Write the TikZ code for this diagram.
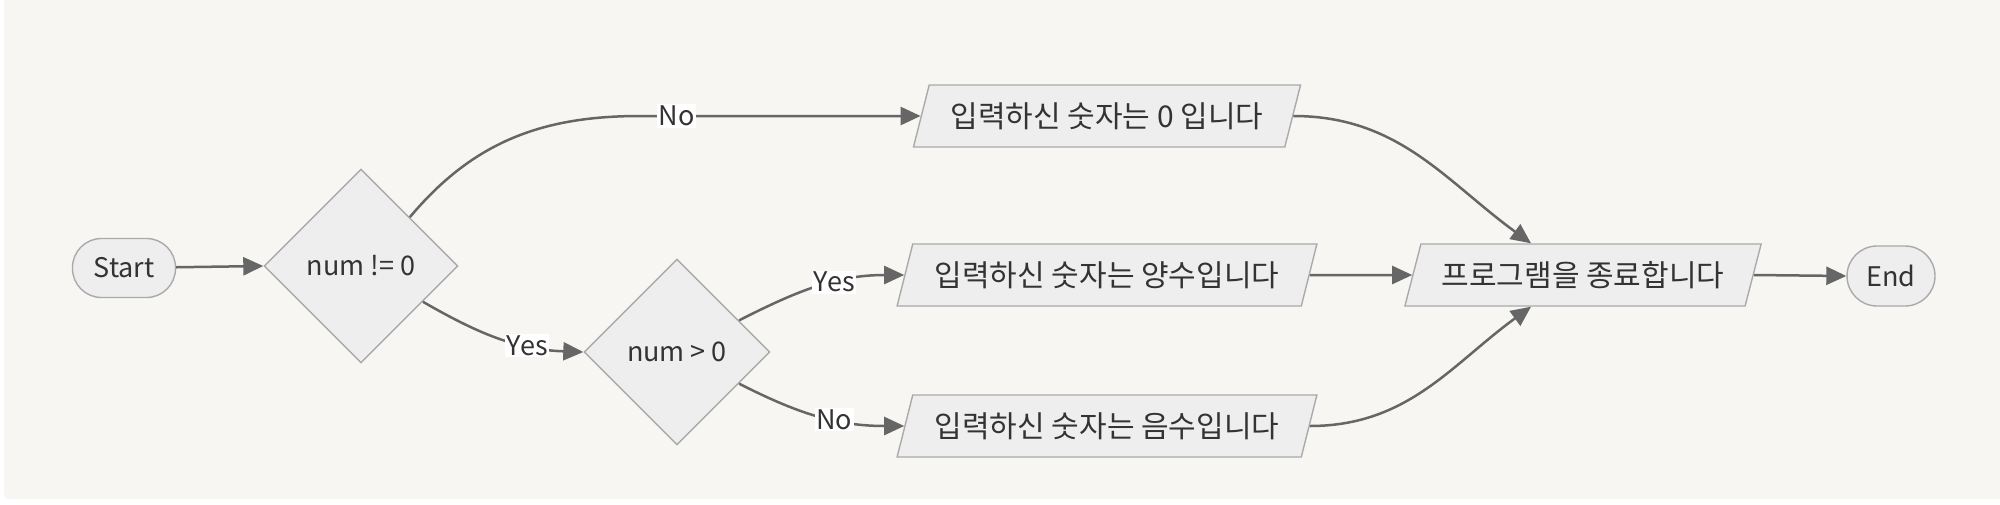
\documentclass[tikz,border=0pt]{standalone}
\usepackage{fontspec}
\setmainfont{Noto Sans CJK KR}
\usetikzlibrary{shapes.geometric,arrows.meta,calc}
\definecolor{bgc}{HTML}{F7F6F3}
\definecolor{nodefill}{HTML}{EEEEEE}
\definecolor{nodeline}{HTML}{AAAAAA}
\definecolor{edgec}{HTML}{666666}
\definecolor{txt}{HTML}{333333}
\begin{document}
\begin{tikzpicture}[x=0.5pt,y=-0.5pt,
  base/.style={draw=nodeline, fill=nodefill, line width=0.7pt, text=txt, font=\fontsize{13.5}{15}\selectfont, inner sep=0pt},
  term/.style={base, rectangle, rounded corners=14.5pt},
  dec/.style={base, diamond, aspect=1},
  io/.style={base, trapezium, trapezium left angle=63, trapezium right angle=117, trapezium stretches=true, minimum height=31pt, font=\fontsize{15}{17}\selectfont},
  flow/.style={draw=edgec, line width=1.25pt, -{Triangle[length=10pt,width=9pt]}},
  lbl/.style={fill=white, inner sep=0.8pt, text=txt, font=\fontsize{13.5}{15}\selectfont}
]
\useasboundingbox (0,0) rectangle (2000,504);
\fill[white] (0,0) rectangle (2000,504);
\fill[bgc, rounded corners=3pt] (4,-5) rectangle (2005,499);

\node[term, minimum width=51.5pt, minimum height=29.5pt] (start) at (124,268) {Start};
\node[dec, minimum width=97pt, minimum height=97pt] (d1) at (361,266) {num != 0};
\node[dec, minimum width=93pt, minimum height=93pt] (d2) at (677,352) {num > 0};
\node[io, minimum width=194pt] (out0) at (1107,116) {입력하신 숫자는 0 입니다};
\node[io, minimum width=210.5pt] (pos) at (1107,275) {입력하신 숫자는 양수입니다};
\node[io, minimum width=210.5pt] (neg) at (1107,426) {입력하신 숫자는 음수입니다};
\node[io, minimum width=178.5pt] (endp) at (1583,275) {프로그램을 종료합니다};
\node[term, minimum width=44pt, minimum height=30pt, rounded corners=15pt] (endn) at (1891,276) {End};

\coordinate (nomid) at (640,116);

\draw[flow] (start) -- (d1.west);
\draw[flow] (d1.north east) to[out=50,in=180] (nomid) -- node[lbl,pos=0.13]{No} (out0.west);
\draw[flow] (d1.-30) to[out=-30,in=178] node[lbl,pos=0.68]{Yes} (d2.west);
\draw[flow] (d2.27) to[out=27,in=180] node[lbl,pos=0.6]{Yes} (pos.west);
\draw[flow] (d2.-27) to[out=-27,in=180] node[lbl,pos=0.6]{No} (neg.west);
\draw[flow] (out0.east) to[out=0,in=144] ([xshift=-26pt]endp.north);
\draw[flow] (pos.east) -- (endp.west);
\draw[flow] (neg.east) to[out=0,in=216] ([xshift=-26pt]endp.south);
\draw[flow] (endp.east) -- (endn.west);
\end{tikzpicture}
\end{document}
